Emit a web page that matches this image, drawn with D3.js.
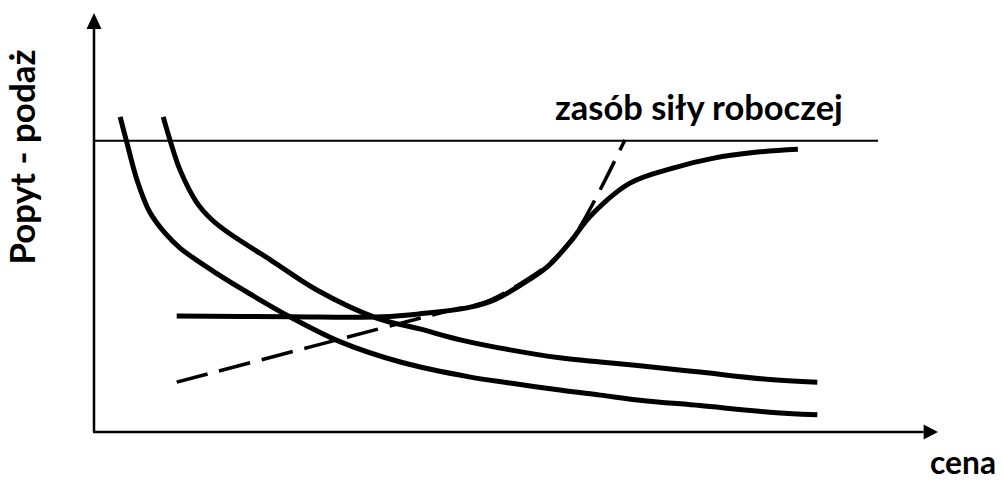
<!DOCTYPE html>
<html>
<head>
<meta charset="utf-8">
<script src="https://cdn.jsdelivr.net/npm/d3@7"></script>
<style>
    body { margin: 0; background: #fff; }
    .lbl { font-family: Lato, "Open Sans", sans-serif; font-weight: bold; fill: #000; }
</style>
</head>
<body>
<svg id="chart" width="1003" height="482"></svg>
<script>
    // wartości (jednostki umowne 0-100)
    var popytA = [[3.1, 75.2], [3.9, 69.0], [5.1, 60.1], [6.6, 52.5], [8.4, 47.5], [10.2, 43.9], [14.1, 38.4],
        [17.7, 33.9], [23.2, 27.5], [29.2, 21.5], [36.3, 16.7], [44.6, 13.1], [49.3, 11.7], [55.2, 10.0],
        [60.0, 8.8], [64.7, 7.6], [71.8, 6.3], [79.7, 4.8], [85.7, 4.1]];
    var popytB = [[8.2, 75.2], [9.0, 69.7], [10.2, 62.5], [12.2, 54.7], [14.0, 50.6], [16.1, 47.3], [20.9, 41.1],
        [26.4, 33.9], [33.5, 27.2], [38.6, 24.6], [43.4, 22.0], [49.3, 19.6], [55.2, 17.7], [60.0, 16.7],
        [64.7, 15.8], [71.8, 14.3], [79.7, 12.6], [85.7, 11.9]];
    var podaz = [[9.8, 27.7], [23.2, 27.5], [34.2, 27.5], [38.6, 28.2], [44.6, 29.8], [47.5, 31.6], [50.5, 35.0],
        [53.7, 39.4], [56.4, 45.3], [58.8, 51.5], [63.5, 59.4], [68.6, 63.0], [73.3, 65.3], [78.6, 66.8], [83.4, 67.5]];
    var podazLiniowa = [[9.8, 11.9], [41.0, 28.4], [46.6, 31.2], [50.5, 35.4], [53.7, 39.8], [56.8, 46.5], [62.9, 69.7]];
    var zasob = 69.5;
    var zasobKoniec = 92.9;

    var svg = d3.select("#chart");

    var x = d3.scaleLinear().domain([0, 100]).range([94, 938]);
    var y = d3.scaleLinear().domain([0, 100]).range([432, 13]);

    var line = d3.line()
        .x(function(d) { return x(d[0]); })
        .y(function(d) { return y(d[1]); })
        .curve(d3.curveCatmullRom.alpha(0.5));

    // osie
    svg.append("line")
        .attr("x1", x(0)).attr("y1", y(0))
        .attr("x2", x(0)).attr("y2", y(96.2))
        .attr("stroke", "#000").attr("stroke-width", 2.5);
    svg.append("line")
        .attr("x1", x(0) - 1).attr("y1", y(0))
        .attr("x2", x(98.3)).attr("y2", y(0))
        .attr("stroke", "#000").attr("stroke-width", 2.5);

    // groty strzałek
    svg.append("path")
        .attr("d", "M" + x(0) + "," + y(100) + "L" + (x(0) - 7.5) + "," + y(96.2) + "L" + (x(0) + 7.5) + "," + y(96.2) + "Z")
        .attr("fill", "#000");
    svg.append("path")
        .attr("d", "M" + x(100) + "," + y(0) + "L" + x(98.3) + "," + (y(0) - 7.5) + "L" + x(98.3) + "," + (y(0) + 7.5) + "Z")
        .attr("fill", "#000");

    // zasób siły roboczej
    svg.append("line")
        .attr("x1", x(0)).attr("y1", y(zasob))
        .attr("x2", x(zasobKoniec)).attr("y2", y(zasob))
        .attr("stroke", "#000").attr("stroke-width", 2);

    svg.append("path").datum(podazLiniowa)
        .attr("d", line)
        .attr("fill", "none").attr("stroke", "#000")
        .attr("stroke-width", 3.5)
        .attr("stroke-dasharray", "32,12");

    [popytA, popytB, podaz].forEach(function(s) {
        svg.append("path").datum(s)
            .attr("d", line)
            .attr("fill", "none").attr("stroke", "#000")
            .attr("stroke-width", 5);
    });

    // podpisy dopasowane do szerokości z rysunku
    function fit(t, w) {
        t.style("font-size", "30px");
        var len = t.node().getComputedTextLength();
        t.style("font-size", (30 * w / len) + "px");
        return t;
    }

    fit(svg.append("text").attr("class", "lbl")
        .attr("x", 555).attr("y", 120)
        .text("zasób siły roboczej"), 288);

    fit(svg.append("text").attr("class", "lbl")
        .attr("x", 930).attr("y", 474)
        .text("cena"), 66);

    fit(svg.append("text").attr("class", "lbl")
        .attr("text-anchor", "middle")
        .attr("transform", "translate(35,157) rotate(-90)")
        .text("Popyt - podaż"), 215);
</script>
</body>
</html>
